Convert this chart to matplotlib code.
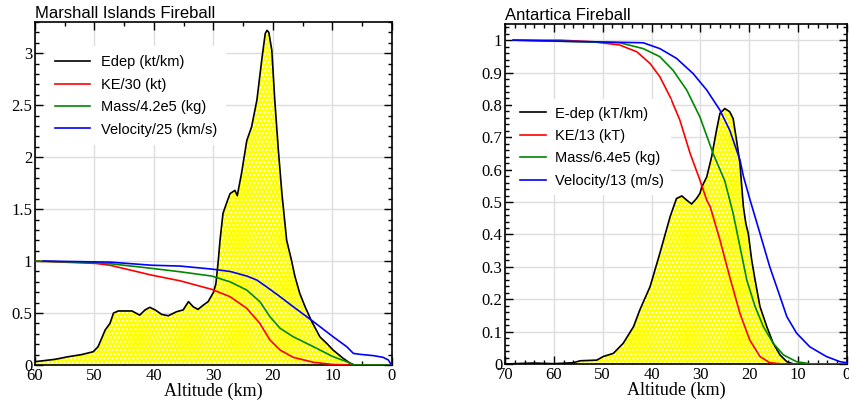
import numpy as np
import matplotlib
matplotlib.use("Agg")
import matplotlib.pyplot as plt
from matplotlib.ticker import MultipleLocator

plt.rcParams['hatch.linewidth'] = 0.9

### Marshall Islands fireball profiles (altitude in km)
mi_edep_alt = [60, 56.6, 54.4, 52.2, 50.2, 49.4, 48.2, 47.4, 46.8, 46.0, 43.7, 42.4, 41.5,
               40.7, 39.8, 38.7, 37.6, 36.2, 35.1, 34.2, 33.4, 32.6, 31.7, 30.9, 30.0, 29.6,
               29.2, 28.9, 28.4, 27.6, 27.2, 26.4, 26.0, 25.3, 24.4, 23.6, 22.7, 21.9, 21.3,
               21.0, 20.7, 20.2, 19.7, 19.1, 18.5, 17.7, 16.9, 16.3, 15.5, 14.6, 13.5, 12.1,
               11.0, 9.9, 8.2, 7.1, 6.3, 0]
mi_edep = [0.032, 0.055, 0.08, 0.10, 0.128, 0.176, 0.337, 0.40, 0.50, 0.52, 0.52, 0.48, 0.53,
           0.555, 0.53, 0.487, 0.474, 0.513, 0.53, 0.61, 0.56, 0.535, 0.577, 0.61, 0.70, 0.78,
           1.0, 1.20, 1.46, 1.59, 1.65, 1.68, 1.63, 1.84, 2.16, 2.29, 2.55, 2.93, 3.19,
           3.22, 3.20, 3.03, 2.55, 2.07, 1.65, 1.20, 1.01, 0.85, 0.69, 0.56, 0.42, 0.27,
           0.21, 0.144, 0.064, 0.02, 0.0, 0.0]
mi_ke_alt = [60, 49.9, 47.4, 40.4, 35.6, 30.3, 27.2, 24.4, 22.2, 20.5, 18.8, 16.6, 13.2,
             9.9, 7.0, 0]
mi_ke = [1.0, 0.978, 0.96, 0.865, 0.81, 0.728, 0.657, 0.545, 0.40, 0.24, 0.144, 0.074,
         0.026, 0.005, 0.0, 0.0]
mi_mass_alt = [60, 49.9, 47.4, 40.4, 35.6, 30.3, 27.2, 24.4, 22.2, 20.5, 18.8, 16.6, 13.2,
               9.9, 7.6, 6.5, 0]
mi_mass = [1.0, 0.985, 0.975, 0.93, 0.897, 0.856, 0.80, 0.721, 0.609, 0.464, 0.353, 0.272,
           0.176, 0.08, 0.032, 0.0, 0.0]
mi_vel_alt = [58.6, 47.4, 40.4, 35.6, 30.3, 27.2, 24.4, 22.7, 21.1, 18.8, 16.6, 13.2, 9.9,
              7.6, 6.5, 5.4, 3.1, 1.5, 0.6, 0.2]
mi_vel = [1.0, 0.99, 0.96, 0.952, 0.923, 0.90, 0.856, 0.817, 0.753, 0.657, 0.561, 0.417,
          0.272, 0.176, 0.112, 0.103, 0.09, 0.074, 0.048, 0.01]

### Antartica fireball profiles
an_edep_alt = [70, 64.2, 60, 56.0, 54.6, 51.2, 49.9, 47.8, 45.8, 43.7, 42.4, 40.3, 38.3,
               36.2, 34.9, 33.8, 32.8, 31.8, 30.8, 30.1, 29.7, 28.7, 27.7, 26.7, 26.0, 25.0,
               24.0, 23.3, 22.6, 21.9, 21.6, 21.2, 20.7, 20.2, 19.5, 18.8, 17.8, 16.4, 15.1,
               13.7, 12.3, 10.9, 0]
an_edep = [0.0, 0.003, 0.001, 0.004, 0.010, 0.012, 0.023, 0.033, 0.064, 0.115, 0.167, 0.239,
           0.342, 0.455, 0.511, 0.519, 0.506, 0.494, 0.511, 0.527, 0.547, 0.578, 0.640, 0.722,
           0.774, 0.789, 0.779, 0.758, 0.691, 0.619, 0.560, 0.486, 0.434, 0.403, 0.321, 0.259,
           0.177, 0.115, 0.064, 0.028, 0.007, 0.0, 0.0]
an_ke_alt = [68.3, 58.7, 51.9, 46.5, 43.0, 40.3, 38.3, 36.2, 34.2, 32.1, 30.1, 28.7, 28.0,
             26.0, 24.0, 21.9, 19.9, 17.8, 15.8, 13.0, 0]
an_ke = [1.0, 1.0, 0.995, 0.985, 0.964, 0.928, 0.887, 0.825, 0.753, 0.650, 0.568, 0.506,
         0.486, 0.383, 0.269, 0.156, 0.074, 0.023, 0.004, 0.0, 0.0]
an_mass_alt = [68.3, 46.5, 41.7, 38.3, 35.6, 32.8, 30.1, 27.4, 25.0, 23.3, 21.9, 20.5, 18.8,
               17.1, 15.1, 13.0, 10.3, 7.2, 0]
an_mass = [1.0, 0.992, 0.974, 0.949, 0.907, 0.846, 0.763, 0.650, 0.565, 0.465, 0.362, 0.259,
           0.177, 0.115, 0.064, 0.028, 0.007, 0.0, 0.0]
an_vel_alt = [68.3, 41.7, 38.3, 34.9, 31.5, 28.7, 26.0, 24.0, 21.9, 21.2, 19.9, 17.8, 15.8,
              13.7, 12.3, 10.3, 7.6, 4.2, 1.4, 0]
an_vel = [1.0, 0.992, 0.974, 0.944, 0.897, 0.846, 0.784, 0.722, 0.630, 0.580, 0.510, 0.403,
          0.30, 0.208, 0.146, 0.095, 0.053, 0.023, 0.007, 0.004]

mi_labels = ['Edep (kt/km)', 'KE/30 (kt)', 'Mass/4.2e5 (kg)', 'Velocity/25 (km/s)']
an_labels = ['E-dep (kT/km)', 'KE/13 (kT)', 'Mass/6.4e5 (kg)', 'Velocity/13 (m/s)']

serif = 'Liberation Serif'
sans = 'Liberation Sans'

fig = plt.figure(figsize=(8.49, 4.04), dpi=100)
ax1 = fig.add_axes([0.0412, 0.0965, 0.4205, 0.849])
ax2 = fig.add_axes([0.5948, 0.099, 0.4028, 0.8416])


def style_axis(ax, xmax, ymax, xminor, ymajor, yminor):
    ax.set_xlim(xmax, 0)
    ax.set_ylim(0, ymax)
    ax.xaxis.set_major_locator(MultipleLocator(10))
    ax.xaxis.set_minor_locator(MultipleLocator(xminor))
    ax.yaxis.set_major_locator(MultipleLocator(ymajor))
    ax.yaxis.set_minor_locator(MultipleLocator(yminor))
    ax.grid(True, which='major', color='#dddddd', linewidth=1.0)
    ax.set_axisbelow(True)
    ax.tick_params(which='both', direction='in', top=True, right=True, color='black',
                   labelsize=12, pad=2)
    ax.tick_params(which='major', length=6, width=1)
    ax.tick_params(which='minor', length=3, width=1)
    for s in ax.spines.values():
        s.set_linewidth(1.2)
    ax.set_xlabel('Altitude (km)', fontfamily=serif, fontsize=13, labelpad=-1)


def draw_panel(ax, edep_alt, edep, ke_alt, ke, m_alt, m, v_alt, v, labels):
    # dotted yellow fill under the energy deposition curve
    ax.fill_between(edep_alt, edep, 0, facecolor='#ffff00', edgecolor='white',
                    hatch='....', linewidth=0, zorder=2)
    ax.plot(edep_alt, edep, color='black', lw=1.2, label=labels[0], zorder=3)
    ax.plot(ke_alt, ke, color='#ff0000', lw=1.2, label=labels[1], zorder=4)
    ax.plot(m_alt, m, color='#008800', lw=1.2, label=labels[2], zorder=4)
    ax.plot(v_alt, v, color='#0000ff', lw=1.2, label=labels[3], zorder=4)


draw_panel(ax1, mi_edep_alt, mi_edep, mi_ke_alt, mi_ke, mi_mass_alt, mi_mass,
           mi_vel_alt, mi_vel, mi_labels)
style_axis(ax1, 60, 3.3, 5, 0.5, 0.1)
ax1.set_yticks([0, 0.5, 1, 1.5, 2, 2.5, 3])
ax1.set_yticklabels(['0', '0.5', '1', '1.5', '2', '2.5', '3'], fontfamily=serif)
ax1.set_xticks([60, 50, 40, 30, 20, 10, 0])
ax1.set_xticklabels(['60', '50', '40', '30', '20', '10', '0'], fontfamily=serif)
ax1.set_title('Marshall Islands Fireball', loc='left', fontfamily=sans, fontsize=12, pad=3)
ax1.legend(loc='upper left', bbox_to_anchor=(0.01, 0.95), frameon=True,
           fancybox=False, edgecolor='none', framealpha=1, handlelength=2.4,
           prop={'family': sans, 'size': 10.5}, labelspacing=0.58, borderpad=0.6)

draw_panel(ax2, an_edep_alt, an_edep, an_ke_alt, an_ke, an_mass_alt, an_mass,
           an_vel_alt, an_vel, an_labels)
style_axis(ax2, 70, 1.05, 2, 0.1, 0.02)
ax2.set_yticks(np.arange(0, 11) / 10)
ax2.set_yticklabels(['0', '0.1', '0.2', '0.3', '0.4', '0.5', '0.6', '0.7', '0.8', '0.9', '1'],
                    fontfamily=serif)
ax2.set_xticks([70, 60, 50, 40, 30, 20, 10, 0])
ax2.set_xticklabels(['70', '60', '50', '40', '30', '20', '10', '0'], fontfamily=serif)
ax2.set_title('Antartica Fireball', loc='left', fontfamily=sans, fontsize=12, pad=3)
ax2.legend(loc='upper left', bbox_to_anchor=(0.0, 0.80), frameon=True,
           fancybox=False, edgecolor='none', framealpha=1, handlelength=1.8,
           handletextpad=0.6, prop={'family': sans, 'size': 10.5}, labelspacing=0.58,
           borderpad=0.5)

plt.savefig('out.png', dpi=100)
